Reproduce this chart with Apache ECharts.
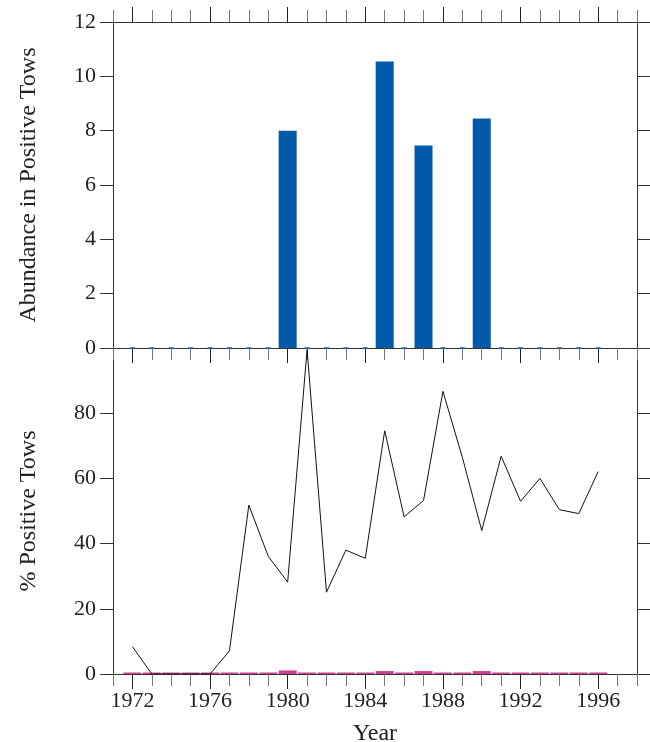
<!DOCTYPE html>
<html>
<head>
<meta charset="utf-8">
<script src="https://cdn.jsdelivr.net/npm/echarts@6/dist/echarts.min.js"></script>
<style>html,body{margin:0;padding:0;background:#fff}#c{width:650px;height:742px}</style>
</head>
<body>
<div id="c"></div>
<script>
// Axis categories (one per year, 1971..1998)
const axisYears = [1971,1972,1973,1974,1975,1976,1977,1978,1979,1980,1981,1982,1983,1984,1985,1986,1987,1988,1989,1990,1991,1992,1993,1994,1995,1996,1997,1998];
// Years with data
const dataYears = [1972,1973,1974,1975,1976,1977,1978,1979,1980,1981,1982,1983,1984,1985,1986,1987,1988,1989,1990,1991,1992,1993,1994,1995,1996];
// Abundance in positive tows (upper panel bars)
const abundance = [0,0,0,0,0,0,0,0,8.0,0,0,0,0,10.55,0,7.45,0,0,8.45,0,0,0,0,0,0];
// % positive tows (lower panel line)
const pctPositive = [8.4,0,0,0,0,7.1,51.8,36.1,28.2,99.5,25.1,38,35.5,74.6,48.2,53.2,86.7,66.5,44,66.8,53,60,50.4,49.2,62.1];
// small pink bars along zero in lower panel
const pinkVals = [0,0,0,0,0,0,0,0,1.1,0,0,0,0,0.9,0,0.9,0,0,0.9,0,0,0,0,0,0];
// tick labels
const upperTicks = [0,2,4,6,8,10,12];
const lowerTicks = [0,20,40,60,80];

function align(vals){
  return axisYears.map(y => { const i = dataYears.indexOf(y); return i < 0 ? null : vals[i]; });
}
const zeroMarks = axisYears.map(y => { const i = dataYears.indexOf(y); return (i >= 0 && abundance[i] === 0) ? 0 : null; });

const FONT = 'Liberation Serif';
const isMajor = (i, v) => Number(v) % 4 === 0;

function xAx(grid, pos, major, labels, extra){
  return Object.assign({
    type: 'category', gridIndex: grid, position: pos, data: axisYears.map(String), boundaryGap: false,
    axisLine: { show: !major, lineStyle: { color: '#333', width: 1 } },
    axisTick: { show: true, inside: false, length: major ? 15 : 12, interval: major ? isMajor : 0,
                lineStyle: { color: major ? '#222' : '#777', width: 1 } },
    axisLabel: labels ? { show: true, interval: isMajor, fontFamily: FONT, fontSize: 22, color: '#222', margin: 16 } : { show: false },
    splitLine: { show: false }
  }, extra || {});
}
function yAx(grid, pos, max, interval, labels, extra){
  return Object.assign({
    type: 'value', gridIndex: grid, position: pos, min: 0, max: max, interval: interval,
    axisLine: { show: true, lineStyle: { color: '#333', width: 1 } },
    axisTick: { show: true, inside: false, length: 13, lineStyle: { color: '#333', width: 1 } },
    axisLabel: labels ? { show: true, fontFamily: FONT, fontSize: 22, color: '#222', margin: 17,
      formatter: v => (labels.indexOf(v) >= 0 ? String(v) : '') } : { show: false },
    splitLine: { show: false }
  }, extra || {});
}

const chart = echarts.init(document.getElementById('c'), null, { renderer: 'canvas' });
chart.setOption({
  animation: false,
  backgroundColor: '#fff',
  textStyle: { fontFamily: FONT },
  grid: [
    { left: 113, right: 13, top: 22, height: 326, containLabel: false, outerBoundsMode: 'none' },
    { left: 113, right: 13, top: 348, height: 326, containLabel: false, outerBoundsMode: 'none' }
  ],
  xAxis: [
    xAx(0, 'bottom', false, false),
    xAx(0, 'bottom', true, false),
    xAx(0, 'top', false, false),
    xAx(0, 'top', true, false),
    xAx(1, 'bottom', false, false),
    xAx(1, 'bottom', true, true, { name: 'Year', nameLocation: 'middle', nameGap: 48,
      nameTextStyle: { fontFamily: FONT, fontSize: 24, color: '#222' } })
  ],
  yAxis: [
    yAx(0, 'left', 12, 2, upperTicks, { name: 'Abundance in Positive Tows', nameLocation: 'middle', nameGap: 72,
      nameTextStyle: { fontFamily: FONT, fontSize: 24, color: '#222' } }),
    yAx(0, 'right', 12, 2, null),
    yAx(1, 'left', 100, 20, lowerTicks, { name: '% Positive Tows', nameLocation: 'middle', nameGap: 72,
      nameTextStyle: { fontFamily: FONT, fontSize: 24, color: '#222' } }),
    yAx(1, 'right', 100, 20, null)
  ],
  series: [
    { type: 'bar', xAxisIndex: 0, yAxisIndex: 0, data: align(abundance), barWidth: 18,
      itemStyle: { color: '#0059a9' } },
    { type: 'scatter', xAxisIndex: 0, yAxisIndex: 0, data: zeroMarks, symbol: 'rect', symbolSize: [5, 2],
      itemStyle: { color: '#2a62a0' }, silent: true },
    { type: 'bar', xAxisIndex: 4, yAxisIndex: 2, data: align(pinkVals), barWidth: 18, barMinHeight: 1.5,
      itemStyle: { color: '#d33d8f' } },
    { type: 'line', xAxisIndex: 4, yAxisIndex: 2, data: align(pctPositive), showSymbol: false, symbol: 'none',
      lineStyle: { color: '#111', width: 1 } }
  ]
});
</script>
</body>
</html>
